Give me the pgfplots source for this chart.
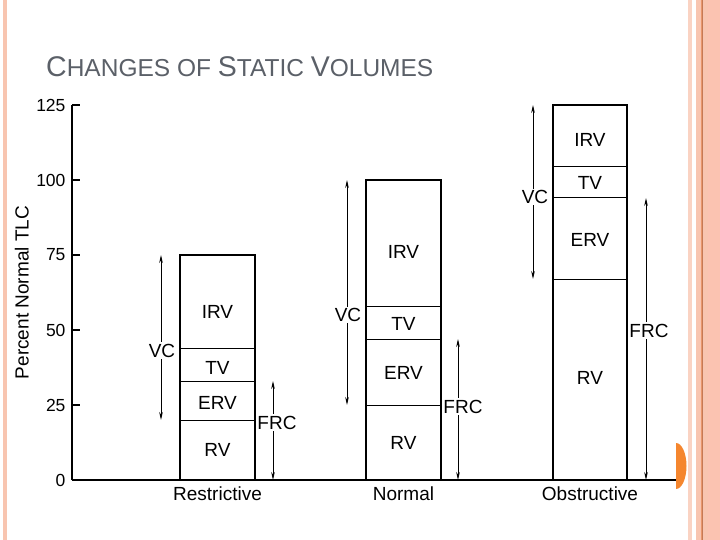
\documentclass[border=0pt]{standalone}
\usepackage{pgfplots}
\pgfplotsset{compat=1.18}
\usepackage{fontspec}
\setmainfont{Liberation Sans}
\usetikzlibrary{arrows.meta}
\definecolor{titlegray}{HTML}{5B6068}
\definecolor{band}{HTML}{F8C5B0}
\definecolor{bandlight}{HTML}{FAD3C3}
\definecolor{bandpink}{HTML}{FBC3B1}
\definecolor{bandline}{HTML}{E8976C}
\definecolor{banddark}{HTML}{C57A55}
\definecolor{dotorange}{HTML}{F5862E}
\begin{document}
\begin{tikzpicture}[x=1pt,y=1pt]
\useasboundingbox (0,0) rectangle (720,-540);
\fill[white] (0,0) rectangle (720,-540);
% left border
\fill[band] (2.5,0) rectangle (7,-540);
% right border
\fill[bandlight] (688,0) rectangle (692,-540);
\fill[band] (696,0) rectangle (701,-540);
\fill[bandline] (701,0) rectangle (702.3,-540);
\fill[banddark] (702.3,0) rectangle (703.3,-540);
\fill[band] (703.3,0) rectangle (708,-540);
\fill[bandpink] (708,0) rectangle (720,-540);
% orange half disc
\fill[dotorange] (676,-443) arc[start angle=90, end angle=-90, x radius=10.5, y radius=23] -- cycle;
% title
\node[anchor=base west, inner sep=0pt, text=titlegray] at (46,-77)
 {\fontsize{28.5}{28}\selectfont C\fontsize{24.5}{24}\selectfont HANGES OF \fontsize{28.5}{28}\selectfont S\fontsize{24.5}{24}\selectfont TATIC \fontsize{28.5}{28}\selectfont V\fontsize{24.5}{24}\selectfont OLUMES};
\begin{axis}[
  at={(72pt,-480pt)}, anchor=south west,
  scale only axis, width=604pt, height=375pt,
  xmin=72, xmax=676, ymin=0, ymax=125,
  axis x line*=bottom, axis y line*=left,
  axis line style={line width=2pt, -},
  ytick={0,25,50,75,100,125},
  ytick style={line width=1.6pt, black},
  major tick length=8pt, tick align=inside,
  xtick={217.5,403.5,590}, xticklabels={Restrictive,Normal,Obstructive},
  xtick style={draw=none},
  yticklabel style={font=\fontsize{17.5}{17}\selectfont, xshift=-3pt},
  xticklabel style={font=\fontsize{19}{19}\selectfont, yshift=-3pt},
  /pgf/number format/assume math mode=true,
  ylabel={Percent Normal TLC},
  ylabel style={at={(axis description cs:-0.083,0.5)}, anchor=center, font=\fontsize{19}{19}\selectfont},
  unbounded coords=jump,
  clip=false,
]
% bars
\addplot[black, line width=1.2pt, mark=none] coordinates {(180,0)(180,75)(255,75)(255,0)};
\addplot[black, line width=1pt, mark=none] coordinates {(180,44)(255,44)(0,nan)(180,33)(255,33)(0,nan)(180,20)(255,20)};
\addplot[black, line width=1.2pt, mark=none] coordinates {(366,0)(366,100)(441,100)(441,0)};
\addplot[black, line width=1pt, mark=none] coordinates {(366,58)(441,58)(0,nan)(366,47)(441,47)(0,nan)(366,25)(441,25)};
\addplot[black, line width=1.2pt, mark=none] coordinates {(553,0)(553,125)(627,125)(627,0)};
\addplot[black, line width=1pt, mark=none] coordinates {(553,104.5)(627,104.5)(0,nan)(553,94)(627,94)(0,nan)(553,67)(627,67)};
% segment labels
\addplot[only marks, mark=none, nodes near coords, point meta=explicit symbolic,
  every node near coord/.style={anchor=center, font=\fontsize{19}{19}\selectfont, inner sep=0pt}]
  table[meta=lab] {
x y lab
217.5 56 IRV
217.5 37.3 TV
217.5 25.7 ERV
217.5 10 RV
403.5 76 IRV
403.5 52 TV
403.5 35.7 ERV
403.5 12.3 RV
590 113.3 IRV
590 99 TV
590 80 ERV
590 34 RV
};
% VC / FRC arrows
\tikzset{dimarrow/.style={black, line width=0.9pt, {Stealth[length=8pt,width=3.6pt]}-{Stealth[length=8pt,width=3.6pt]}}}
\addplot[dimarrow, mark=none] coordinates {(161,20)(161,75)} node[pos=0.42, fill=white, inner sep=1.5pt, xshift=1pt, font=\fontsize{19}{19}\selectfont] {VC};
\addplot[dimarrow, mark=none] coordinates {(273,0)(273,33)} node[pos=0.58, fill=white, inner sep=1.5pt, xshift=4pt, font=\fontsize{19}{19}\selectfont] {FRC};
\addplot[dimarrow, mark=none] coordinates {(347,25)(347,100)} node[pos=0.4, fill=white, inner sep=1.5pt, xshift=1pt, font=\fontsize{19}{19}\selectfont] {VC};
\addplot[dimarrow, mark=none] coordinates {(458,0)(458,47)} node[pos=0.52, fill=white, inner sep=1.5pt, xshift=5pt, font=\fontsize{19}{19}\selectfont] {FRC};
\addplot[dimarrow, mark=none] coordinates {(533,67)(533,125)} node[pos=0.47, fill=white, inner sep=1.5pt, xshift=2pt, font=\fontsize{19}{19}\selectfont] {VC};
\addplot[dimarrow, mark=none] coordinates {(646,0)(646,94)} node[pos=0.53, fill=white, inner sep=1.5pt, xshift=3pt, font=\fontsize{19}{19}\selectfont] {FRC};
\end{axis}
\end{tikzpicture}
\end{document}
